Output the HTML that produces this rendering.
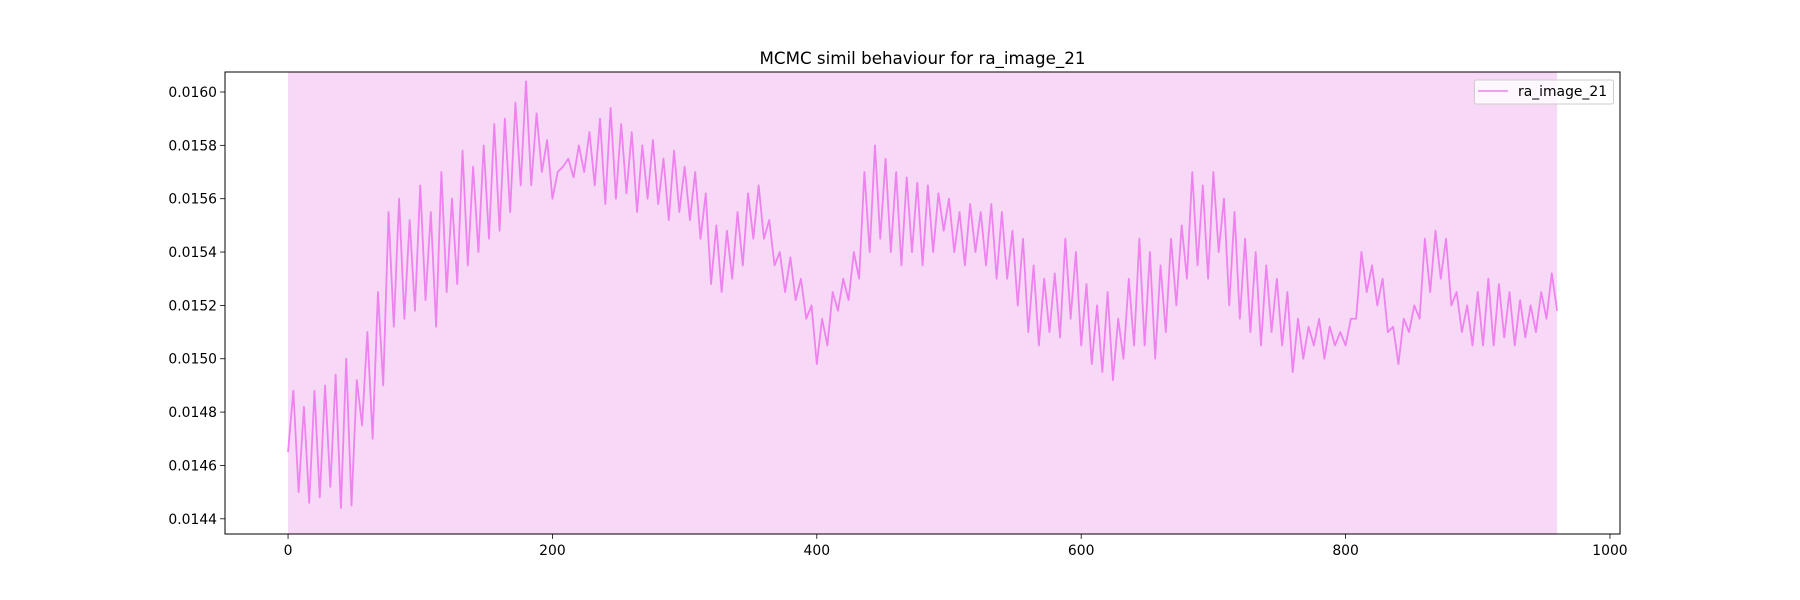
<!DOCTYPE html>
<html><head><meta charset="utf-8"><style>
body{margin:0;background:#fff}
svg{display:block;font-family:"DejaVu Sans","Liberation Sans",sans-serif}
</style></head><body>
<svg id="chart" width="1800" height="600" viewBox="0 0 1800 600">
<rect width="1800" height="600" fill="#fff"/>
<text x="922.5" y="64" font-size="16.7" text-anchor="middle" fill="#000">MCMC simil behaviour for ra_image_21</text>
<g id="plot"></g>
</svg>
<script>
const stepSize = 4;
const simil = [
0.01465,0.01488,0.01450,0.01482,0.01446,0.01488,0.01448,0.01490,0.01452,0.01494,
0.01444,0.01500,0.01445,0.01492,0.01475,0.01510,0.01470,0.01525,0.01490,0.01555,
0.01512,0.01560,0.01515,0.01552,0.01518,0.01565,0.01522,0.01555,0.01512,0.01570,
0.01525,0.01560,0.01528,0.01578,0.01535,0.01572,0.01540,0.01580,0.01545,0.01588,
0.01548,0.01590,0.01555,0.01596,0.01565,0.01604,0.01565,0.01592,0.01570,0.01582,
0.01560,0.01570,0.01572,0.01575,0.01568,0.01580,0.01570,0.01585,0.01565,0.01590,
0.01558,0.01594,0.01560,0.01588,0.01562,0.01585,0.01555,0.01580,0.01560,0.01582,
0.01558,0.01575,0.01552,0.01578,0.01555,0.01572,0.01552,0.01570,0.01545,0.01562,
0.01528,0.01550,0.01525,0.01548,0.01530,0.01555,0.01535,0.01562,0.01545,0.01565,
0.01545,0.01552,0.01535,0.01540,0.01525,0.01538,0.01522,0.01530,0.01515,0.01520,
0.01498,0.01515,0.01505,0.01525,0.01518,0.01530,0.01522,0.01540,0.01530,0.01570,
0.01540,0.01580,0.01545,0.01575,0.01540,0.01570,0.01535,0.01568,0.01540,0.01566,
0.01535,0.01565,0.01540,0.01562,0.01548,0.01560,0.01540,0.01555,0.01535,0.01558,
0.01540,0.01555,0.01535,0.01558,0.01530,0.01555,0.01530,0.01548,0.01520,0.01545,
0.01510,0.01535,0.01505,0.01530,0.01510,0.01532,0.01508,0.01545,0.01515,0.01540,
0.01505,0.01528,0.01498,0.01520,0.01495,0.01525,0.01492,0.01515,0.01500,0.01530,
0.01505,0.01545,0.01505,0.01540,0.01500,0.01535,0.01510,0.01545,0.01520,0.01550,
0.01530,0.01570,0.01535,0.01565,0.01530,0.01570,0.01540,0.01560,0.01520,0.01555,
0.01515,0.01545,0.01510,0.01540,0.01505,0.01535,0.01510,0.01530,0.01505,0.01525,
0.01495,0.01515,0.01500,0.01512,0.01505,0.01515,0.01500,0.01512,0.01505,0.01510,
0.01505,0.01515,0.01515,0.01540,0.01525,0.01535,0.01520,0.01530,0.01510,0.01512,
0.01498,0.01515,0.01510,0.01520,0.01515,0.01545,0.01525,0.01548,0.01530,0.01545,
0.01520,0.01525,0.01510,0.01520,0.01505,0.01525,0.01505,0.01530,0.01505,0.01528,
0.01508,0.01525,0.01505,0.01522,0.01508,0.01520,0.01510,0.01525,0.01515,0.01532,
0.01518];
const xTicks = [0,200,400,600,800,1000];
const yTicks = [0.0144,0.0146,0.0148,0.0150,0.0152,0.0154,0.0156,0.0158,0.0160];
const shadeRange = [0,960];
const seriesLabel = "ra_image_21";

const L=225,R=1620,T=72,B=534;
const xMin=-47.7,xMax=1007.6,yMin=0.014343,yMax=0.016075;
const xs=v=>L+(v-xMin)/(xMax-xMin)*(R-L);
const ys=v=>B-(v-yMin)/(yMax-yMin)*(B-T);
const NS="http://www.w3.org/2000/svg";
const g=document.getElementById('plot');
function mk(tag,attrs,parent){const e=document.createElementNS(NS,tag);for(const k in attrs)e.setAttribute(k,attrs[k]);(parent||g).appendChild(e);return e;}

const sh=mk('rect',{x:xs(shadeRange[0]),y:T,width:xs(shadeRange[1])-xs(shadeRange[0]),height:B-T,fill:'#f7d8f7'});



let d='';
simil.forEach((v,i)=>{d+=(i?'L':'M')+xs(i*stepSize).toFixed(2)+','+ys(v).toFixed(2);});
const ln=mk('path',{d:d,fill:'none',stroke:'#ee82ee','stroke-width':1.8,'stroke-linejoin':'round'});



const frame=mk('rect',{x:L,y:T,width:R-L,height:B-T,fill:'none',stroke:'#000','stroke-width':1});



xTicks.forEach(t=>{
  const x=xs(t);
  const tk=mk('line',{x1:x,x2:x,y1:B,y2:B+4.9,stroke:'#000','stroke-width':0.8});
  
  
  const tx=mk('text',{x:x,y:B+21,'font-size':13.9,'text-anchor':'middle',fill:'#000'});
  tx.textContent=t;
  
  
});
yTicks.forEach(t=>{
  const y=ys(t);
  const tk=mk('line',{x1:L-4.9,x2:L,y1:y,y2:y,stroke:'#000','stroke-width':0.8});
  
  
  const tx=mk('text',{x:L-8,y:y+5,'font-size':13.9,'text-anchor':'end',fill:'#000'});
  tx.textContent=t.toFixed(4);
  
  
});

const lg=mk('g',{});


mk('rect',{x:1474.5,y:80,width:139,height:24,rx:2,fill:'#fff','fill-opacity':0.8,stroke:'#ccc','stroke-width':1},lg);
const ll=mk('line',{x1:1478,x2:1508,y1:91,y2:91,stroke:'#ee82ee','stroke-width':1.5},lg);


const lt=mk('text',{x:1518,y:96,'font-size':13.9,fill:'#000'},lg);
lt.textContent=seriesLabel;


</script>
</body></html>
